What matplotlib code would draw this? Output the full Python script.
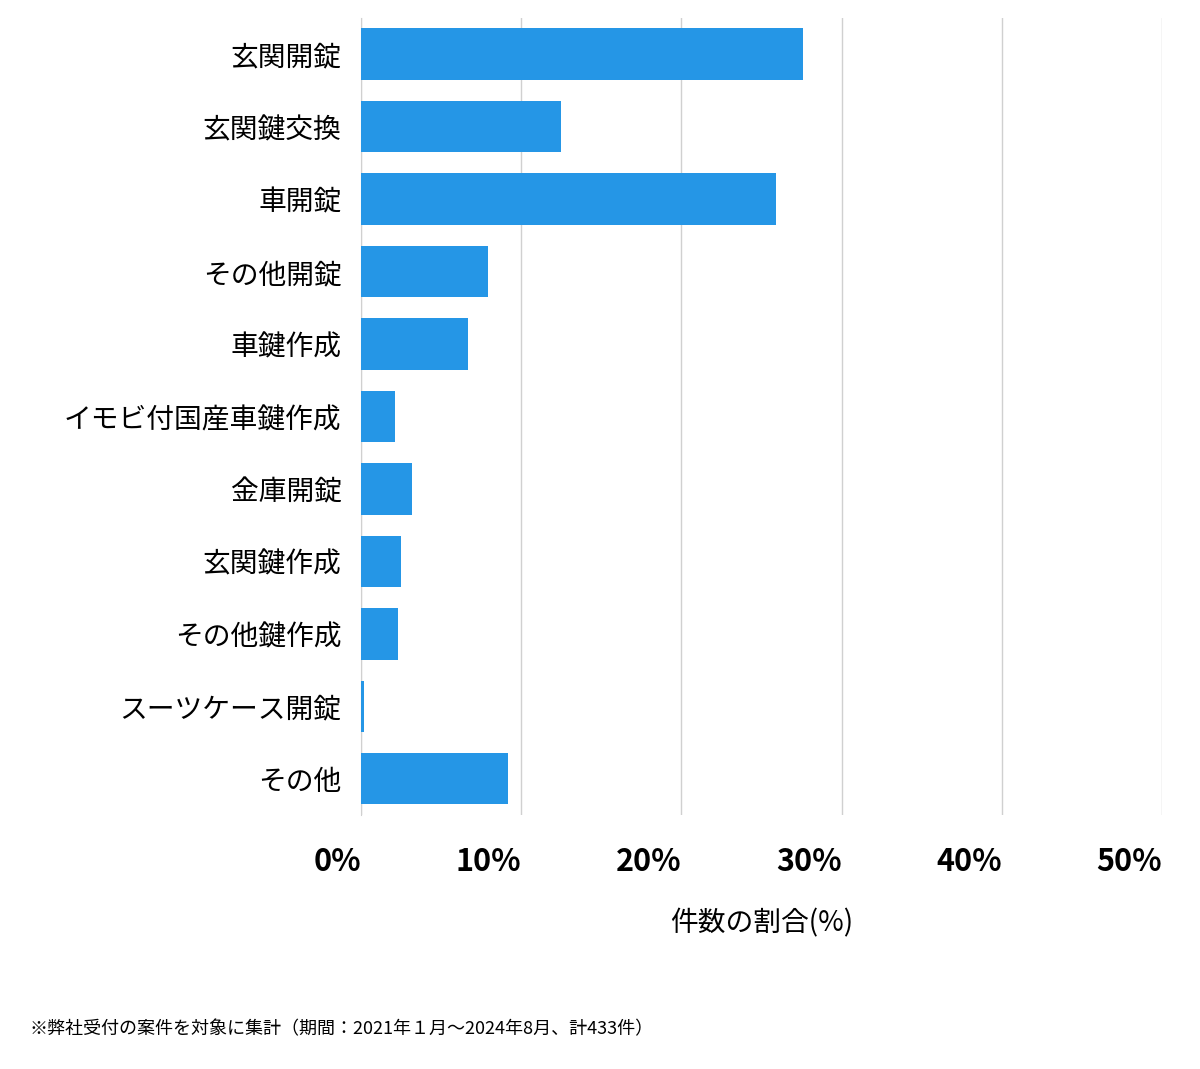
import matplotlib.pyplot as plt
from matplotlib.ticker import FuncFormatter

plt.rcParams['font.family'] = 'Noto Sans CJK JP'

categories = ['玄関開錠', '玄関鍵交換', '車開錠', 'その他開錠', '車鍵作成',
              'イモビ付国産車鍵作成', '金庫開錠', '玄関鍵作成', 'その他鍵作成',
              'スーツケース開錠', 'その他']
shares = [27.6, 12.5, 25.9, 7.9, 6.7, 2.1, 3.2, 2.5, 2.3, 0.2, 9.2]
ticks = [0, 10, 20, 30, 40, 50]

fig = plt.figure(figsize=(12, 10.69), dpi=100)
ax = fig.add_axes([0.3008, 0.2376, 0.6675, 0.7456])

ypos = list(range(len(categories)))
ax.barh(ypos, shares, height=0.71, color='#2596E6', zorder=3)
ax.set_ylim(len(categories) - 0.5, -0.5)
ax.set_xlim(0, 50)
ax.set_yticks(ypos)
ax.set_yticklabels(categories, fontsize=20)
ax.set_xticks(ticks)
ax.xaxis.set_major_formatter(FuncFormatter(lambda v, p: f'{int(v)}%'))
for lab in ax.get_xticklabels():
    lab.set_fontweight('bold')
    lab.set_fontsize(22)
    lab.set_horizontalalignment('right')
ax.tick_params(axis='both', length=0)
ax.tick_params(axis='x', pad=22)
ax.tick_params(axis='y', pad=14)
ax.grid(axis='x', color='#d0d0d0', linewidth=1, zorder=0)
for s in ['top', 'right', 'bottom']:
    ax.spines[s].set_visible(False)
ax.spines['left'].set_color('#d0d0d0')
ax.set_xlabel('件数の割合(%)', fontsize=20, labelpad=22)

fig.text(0.025, 0.037, '※弊社受付の案件を対象に集計（期間：2021年１月〜2024年8月、計433件）',
         fontsize=13, va='center')

fig.savefig('out.png')
